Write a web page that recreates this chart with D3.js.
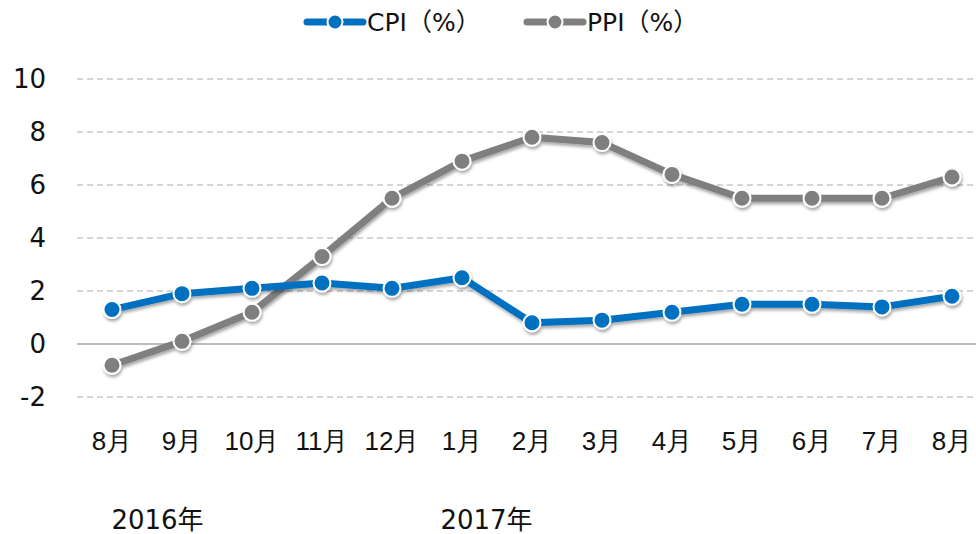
<!DOCTYPE html>
<html><head><meta charset="utf-8">
<script src="https://cdn.jsdelivr.net/npm/d3@7"></script>
<style>
html,body{margin:0;padding:0;background:#fff;}
svg{display:block;font-family:"DejaVu Sans","Noto Sans CJK SC",sans-serif;}
</style></head>
<body><svg id="c" width="976" height="534"></svg>
<script>
const categories = ["8月","9月","10月","11月","12月","1月","2月","3月","4月","5月","6月","7月","8月"];
const cpi = [1.3, 1.9, 2.1, 2.3, 2.1, 2.5, 0.8, 0.9, 1.2, 1.5, 1.5, 1.4, 1.8];
const ppi = [-0.8, 0.1, 1.2, 3.3, 5.5, 6.9, 7.8, 7.6, 6.4, 5.5, 5.5, 5.5, 6.3];
const yTicks = [-2, 0, 2, 4, 6, 8, 10];
const years = [{label:"2016年", idx:0.65}, {label:"2017年", idx:5.35}];
const seriesNames = ["CPI（%）", "PPI（%）"];
const colors = ["#0070C0", "#7F7F7F"];

const svg = d3.select("#c");
const W = 976;
const idx = d3.range(categories.length);
const x = d3.scaleBand().domain(idx).range([77, 987]).padding(0);
const cx = i => x(i) + x.bandwidth()/2;
const y = d3.scaleLinear().domain([-2, 10]).range([397, 79]);

const defs = svg.append("defs");
const f = defs.append("filter").attr("id","sh").attr("x","-50%").attr("y","-50%").attr("width","200%").attr("height","200%");
f.append("feDropShadow").attr("dx",1).attr("dy",2.5).attr("stdDeviation",1.6).attr("flood-color","#000").attr("flood-opacity",0.35);

// gridlines
svg.append("g").selectAll("line").data(yTicks).join("line")
  .attr("x1", 77).attr("x2", W)
  .attr("y1", d => y(d)).attr("y2", d => y(d))
  .attr("stroke", d => d === 0 ? "#A6A6A6" : "#C8C8C8")
  .attr("stroke-width", 1.5)
  .attr("stroke-dasharray", d => d === 0 ? null : "6,4");

// y labels
const yAxis = d3.axisLeft(y).tickValues(yTicks).tickSize(0).tickPadding(0).tickFormat(d => String(d));
const ya = svg.append("g").attr("transform","translate(46,0)").call(yAxis);
ya.select(".domain").remove();
ya.selectAll("text").attr("font-size", 26).attr("fill","#111").attr("font-family","DejaVu Sans, sans-serif");

// x labels
const xAxis = d3.axisBottom(x).tickSize(0).tickPadding(0).tickFormat(i => categories[i]);
const xa = svg.append("g").attr("transform","translate(0,0)").call(xAxis);
xa.select(".domain").remove();
xa.selectAll("text").attr("font-size", 26).attr("fill","#111").attr("y", 450).attr("dy", null);

// year labels
svg.append("g").selectAll("text").data(years).join("text")
  .attr("x", d => x(0) + x.bandwidth()*(d.idx+0.5))
  .attr("y", 529).attr("text-anchor","middle")
  .attr("font-size", 26).attr("fill","#111").text(d => d.label);

const line = d3.line().x((d,i) => cx(i)).y(d => y(d));
[ppi, cpi].forEach((data, k) => {
  const c = k === 0 ? colors[1] : colors[0];
  const g = svg.append("g").attr("filter","url(#sh)");
  g.append("path").datum(data).attr("d", line).attr("fill","none")
    .attr("stroke", c).attr("stroke-width", 7).attr("stroke-linejoin","round");
  g.selectAll("circle").data(data).join("circle")
    .attr("cx", (d,i) => cx(i)).attr("cy", d => y(d)).attr("r", 8.5)
    .attr("fill", c).attr("stroke","#fff").attr("stroke-width", 2);
});

// legend
const legendX = [305, 525];
seriesNames.forEach((name, k) => {
  const g = svg.append("g").attr("transform", `translate(${legendX[k]},22)`);
  g.append("line").attr("x1",2).attr("x2",58).attr("y1",0).attr("y2",0)
    .attr("stroke", colors[k]).attr("stroke-width", 7).attr("stroke-linecap","round");
  g.append("circle").attr("cx",30).attr("cy",0).attr("r",7.5).attr("fill",colors[k]).attr("stroke","#fff").attr("stroke-width",2);
  g.append("text").attr("x",62).attr("y",0).attr("dy","0.36em").attr("font-size",25).attr("fill","#111").text(name);
});
</script></body></html>
